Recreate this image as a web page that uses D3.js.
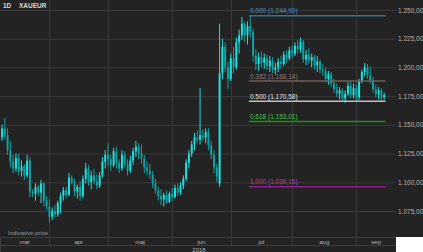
<!DOCTYPE html>
<html>
  <head>
    <meta charset="utf-8" />
    <title>XAUEUR 1D</title>
    <style>
      body { margin: 0; background: #ffffff; }
      svg { display: block; font-family: "Liberation Sans", Arial, sans-serif; }
    </style>
  </head>
  <body>
    <div id="chart-area"></div>
    <script src="https://d3js.org/d3.v7.min.js"></script>
    <script>
      // daily XAUEUR candles, 8 mar - 17 sep 2018
      const opens = [1139,1147,1141,1128,1118,1112,1121,1110,1114,1106,1119,1092,1090,1096,1091,1099,1084,
        1079,1070,1075,1072,1082,1088,1093,1089,1104,1100,1092,1096,1088,1103,1112,1100,1106,1101,1097,1106,1118,
        1124,1120,1115,1127,1117,1112,1124,1116,1110,1119,1127,1131,1125,1121,1113,1110,1107,1099,1093,1088,1085,1089,1083,
        1090,1087,1095,1091,1097,1103,1117,1125,1133,1139,1137,1141,1139,1144,1132,1124,1113,1099,1195,1218,1200,
        1190,1208,1200,1222,1228,1238,1228,1236,1231,1210,1203,1209,1204,1208,1201,1206,1198,1200,1205,1203,1211,1208,
        1215,1212,1219,1216,1222,1207,1211,1206,1209,1202,1205,1198,1197,1190,1194,1186,1181,1177,1180,1173,1177,1184,1176,
        1182,1174,1188,1196,1200,1193,1189,1181,1177,1180,1174];
      const highs = [1150,1156,1147,1136,1124,1125,1125,1119,1116,1124,1122,1094,1099,1098,1102,1100,1088,
        1085,1078,1080,1084,1091,1096,1096,1108,1106,1103,1098,1101,1106,1117,1115,1110,1112,1107,1109,1122,1128,
        1134,1124,1130,1131,1120,1128,1127,1120,1123,1130,1136,1134,1133,1124,1118,1116,1110,1103,1096,1094,1091,1093,1092,
        1095,1098,1099,1100,1106,1120,1128,1136,1143,1145,1182,1146,1147,1147,1136,1128,1116,1238,1225,1222,1205,
        1212,1218,1226,1233,1244,1240,1240,1244.99,1234,1216,1213,1214,1212,1211,1210,1209,1204,1208,1210,1214,1215,1218,
        1219,1222,1224,1226,1224,1215,1217,1212,1211,1210,1207,1203,1200,1197,1196,1190,1186,1183,1182,1180,1187,1188,1186,
        1185,1190,1198,1204,1203,1201,1192,1185,1183,1182,1178];
      const lows = [1136,1137,1124,1113,1108,1109,1106,1105,1102,1104,1087,1087,1084,1088,1082,1079,1076,
        1065,1067,1069,1070,1073,1084,1086,1088,1098,1088,1086,1084,1086,1099,1097,1094,1098,1094,1095,1104,1112,
        1114,1110,1113,1112,1108,1110,1113,1106,1108,1115,1122,1120,1116,1108,1106,1103,1095,1090,1084,1080,1079,1081,1082,
        1084,1086,1088,1089,1094,1101,1112,1122,1128,1134,1133,1136,1134,1128,1120,1108,1100,1096.16,1190,1196,1181,
        1188,1195,1198,1212,1224,1222,1220,1226,1205,1198,1197,1200,1199,1198,1196,1195,1194,1196,1199,1201,1204,1206,
        1208,1210,1212,1213,1204,1202,1203,1200,1198,1196,1195,1193,1187,1185,1183,1178,1174,1172,1170,1169,1175,1173,1173,
        1170,1172,1186,1192,1190,1186,1178,1174,1172,1171,1172];
      const closes = [1147,1141,1128,1118,1112,1121,1110,1114,1106,1119,1092,1090,1096,1091,1099,1084,1079,
        1070,1075,1072,1082,1088,1093,1089,1104,1100,1092,1096,1088,1103,1112,1100,1106,1101,1097,1106,1118,1124,
        1120,1115,1127,1117,1112,1124,1116,1110,1119,1127,1131,1125,1121,1113,1110,1107,1099,1093,1088,1085,1089,1083,1090,
        1087,1095,1091,1097,1103,1117,1125,1133,1139,1137,1141,1139,1144,1132,1124,1113,1105,1195,1218,1200,1190,
        1208,1200,1222,1228,1238,1228,1236,1231,1210,1203,1209,1204,1208,1201,1206,1198,1200,1205,1203,1211,1208,1215,
        1212,1219,1216,1222,1207,1211,1206,1209,1202,1205,1198,1197,1190,1194,1186,1181,1177,1180,1173,1177,1184,1176,1182,
        1174,1188,1196,1200,1193,1189,1181,1177,1180,1174,1176];

      const priceTicks = [1075, 1100, 1125, 1150, 1175, 1200, 1225, 1250];
      const monthLabels = ["mar", "apr", "maj", "jun", "jul", "aug", "sep"];
      const yearLabel = "2018";

      const fibRatios = ["0.000", "0.382", "0.500", "0.618", "1.000"];
      const fibValues = [1244.99, 1188.14, 1170.58, 1153.01, 1096.16];
      const fibLine = ["#3b6f92", "#6f5e5a", "#bfbfbf", "#1f8f1f", "#8c1f8c"];
      const fibText = ["#4f93c6", "#8d7c78", "#e6e6e6", "#3fd03f", "#b43cb4"];

      // trading days (weekdays) for the category axis
      const days = d3.timeDay.range(new Date(2018, 2, 8), new Date(2018, 8, 18))
        .filter(d => d.getDay() !== 0 && d.getDay() !== 6);
      const data = days.map((d, i) => ({
        date: d, o: opens[i], h: highs[i], l: lows[i], c: closes[i]
      }));

      const W = 423, H = 252;
      const plotRight = 396, plotBottom = 237;

      const svg = d3.select("#chart-area").append("svg")
        .attr("width", W)
        .attr("height", H);

      svg.append("rect")
        .attr("width", W).attr("height", plotBottom)
        .attr("fill", "#232323");
      svg.append("rect")
        .attr("y", plotBottom).attr("width", plotRight).attr("height", H - plotBottom)
        .attr("fill", "#232323");

      const x = d3.scaleBand()
        .domain(data.map(d => +d.date))
        .range([0.6, 385.6]);
      const xc = d => x(+d) + x.bandwidth() / 2;

      const y = d3.scaleLinear()
        .domain([1075, 1250])
        .range([211, 10]);

      const loc = d3.formatLocale({ decimal: ",", thousands: ".", grouping: [3], currency: ["", ""] });
      const fmt = loc.format(",.2f");

      // horizontal grid + right axis
      const yAxis = d3.axisRight(y)
        .tickValues(priceTicks)
        .tickSize(-plotRight)
        .tickFormat(fmt);
      const gy = svg.append("g")
        .attr("transform", `translate(${plotRight},0)`)
        .call(yAxis);
      gy.select(".domain").remove();
      gy.selectAll(".tick line").attr("stroke", "#3a3a3a");
      gy.selectAll(".tick text")
        .attr("x", 2)
        .attr("fill", "#b4b4b4")
        .style("font-size", "6.5px");

      // month boundaries
      const firstOfMonth = [];
      data.forEach((d, i) => {
        if (i > 0 && d.date.getMonth() !== data[i - 1].date.getMonth()) firstOfMonth.push(d.date);
      });
      const bounds = [0].concat(firstOfMonth.map(xc)).concat([plotRight]);

      svg.append("g").selectAll("line")
        .data(firstOfMonth)
        .join("line")
        .attr("x1", d => Math.round(xc(d)) + 0.5)
        .attr("x2", d => Math.round(xc(d)) + 0.5)
        .attr("y1", 0).attr("y2", 245)
        .attr("stroke", "#3a3a3a");

      // bottom time axis rows
      svg.append("line")
        .attr("x1", 0).attr("x2", plotRight).attr("y1", 237.5).attr("y2", 237.5)
        .attr("stroke", "#3c3c3c");
      svg.append("line")
        .attr("x1", 0).attr("x2", plotRight).attr("y1", 245.5).attr("y2", 245.5)
        .attr("stroke", "#3c3c3c");
      svg.append("line")
        .attr("x1", 0.5).attr("x2", 0.5).attr("y1", 237).attr("y2", 252)
        .attr("stroke", "#3c3c3c");

      svg.append("g").selectAll("text")
        .data(monthLabels)
        .join("text")
        .attr("x", (d, i) => (bounds[i] + bounds[i + 1]) / 2)
        .attr("y", 243.5)
        .attr("text-anchor", "middle")
        .attr("fill", "#b4b4b4")
        .style("font-size", "6px")
        .text(d => d);

      svg.append("text")
        .attr("x", 199).attr("y", 251.5)
        .attr("text-anchor", "middle")
        .attr("fill", "#b4b4b4")
        .style("font-size", "6px")
        .text(yearLabel);

      // candles
      const candles = svg.append("g").selectAll("g")
        .data(data)
        .join("g")
        .attr("fill", d => d.c >= d.o ? "#1fe0e0" : "#12a0a0")
        .attr("stroke", d => d.c >= d.o ? "#1fe0e0" : "#12a0a0");

      candles.append("line")
        .attr("x1", d => xc(d.date)).attr("x2", d => xc(d.date))
        .attr("y1", d => y(d.h)).attr("y2", d => y(d.l))
        .attr("stroke-width", 1);

      candles.append("rect")
        .attr("x", d => xc(d.date) - 1)
        .attr("width", 2)
        .attr("y", d => y(Math.max(d.o, d.c)))
        .attr("height", d => Math.max(1, Math.abs(y(d.o) - y(d.c))))
        .attr("stroke", "none");

      // fibonacci retracement
      const hiDay = data[d3.maxIndex(data, d => d.h)].date;
      const fibX1 = x(+hiDay);
      const fibX2 = x.range()[1];

      const fib = svg.append("g").selectAll("g")
        .data(fibValues)
        .join("g");
      fib.append("line")
        .attr("x1", fibX1).attr("x2", fibX2)
        .attr("y1", d => y(d)).attr("y2", d => y(d))
        .attr("stroke", (d, i) => fibLine[i])
        .attr("stroke-width", 1.5);
      fib.append("text")
        .attr("x", fibX1 + 1)
        .attr("y", d => y(d) - 2.5)
        .attr("fill", (d, i) => fibText[i])
        .style("font-size", "6.5px")
        .text((d, i) => `${fibRatios[i]} (${fmt(d)})`);

      // title + footer note
      svg.append("text")
        .attr("x", 3).attr("y", 8)
        .attr("fill", "#d8d8d8")
        .style("font-size", "6.5px")
        .style("font-weight", "bold")
        .text("1D");
      svg.append("text")
        .attr("x", 19).attr("y", 8)
        .attr("fill", "#d8d8d8")
        .style("font-size", "6.5px")
        .style("font-weight", "bold")
        .text("XAUEUR");
      svg.append("text")
        .attr("x", 8).attr("y", 235)
        .attr("fill", "#9a9a9a")
        .style("font-size", "6px")
        .text("Indicative price");
    </script>
  </body>
</html>
